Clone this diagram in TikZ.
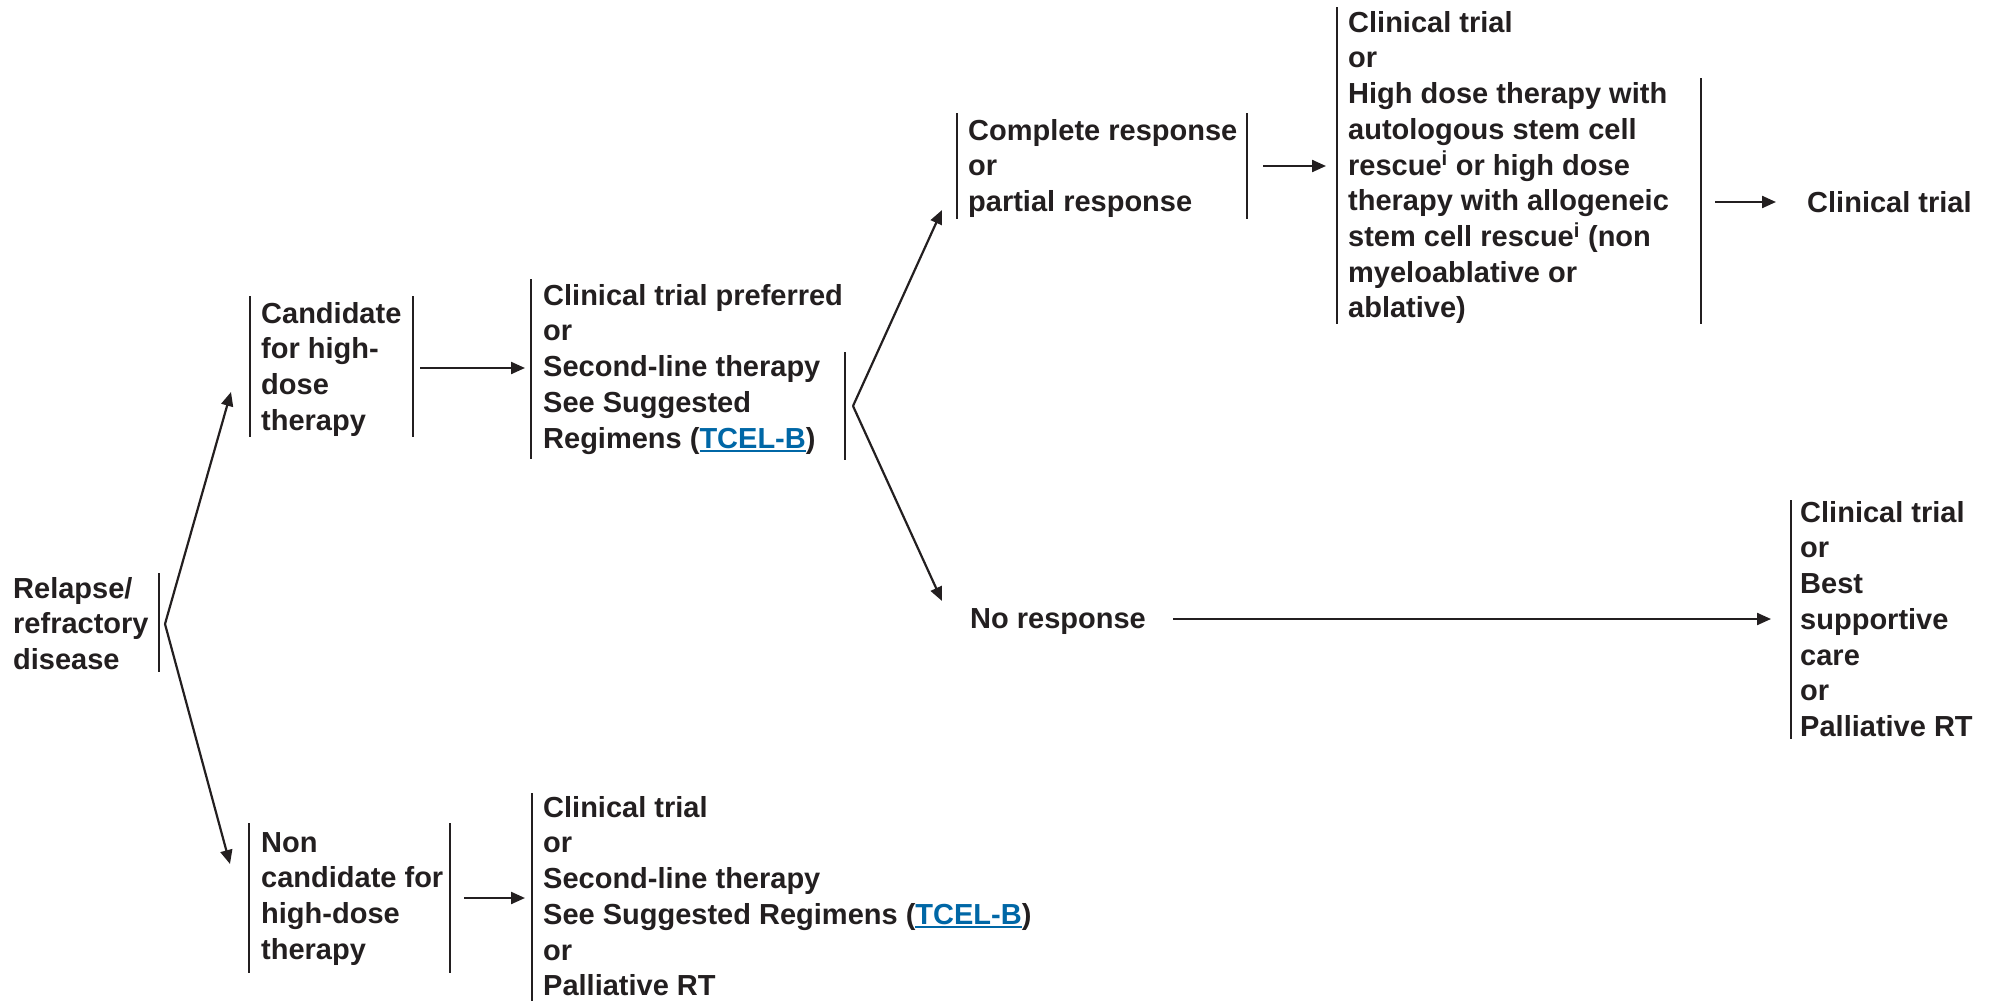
\documentclass[tikz,border=0pt]{standalone}
\usepackage{fontspec}
\setmainfont{Liberation Sans}
\usetikzlibrary{arrows.meta}
\definecolor{ink}{HTML}{231F20}
\definecolor{linkblue}{HTML}{0067A6}
% blue underlined cross-reference
\newcommand\tcellink[1]{\textcolor{linkblue}{\setbox0\hbox{#1}\rlap{\rule[-3.5pt]{\wd0}{1.8pt}}\box0}}
\tikzset{
  txt/.style={anchor=north west, inner sep=0pt, align=left, text=ink,
    font=\bfseries\fontsize{29}{35.7}\selectfont,
    execute at begin node=\rule{0pt}{22pt}},
  bar/.style={draw=ink, line width=2.7pt},
  arr/.style={draw=ink, line width=2.2pt, -{Triangle[length=14pt,width=12pt]}},
}
\begin{document}
\begin{tikzpicture}[x=1pt,y=-1pt]
\useasboundingbox (0,0) rectangle (1997,1001);

% text blocks
\node[txt] (relapse) at (13,577) {Relapse/\\refractory\\disease};
\node[txt] (cand) at (261,302) {Candidate\\for high-\\dose\\therapy};
\node[txt] (second) at (543,284) {Clinical trial preferred\\or\\Second-line therapy\\See Suggested\\Regimens (\tcellink{TCEL-B})};
\node[txt] (cr) at (968,119) {Complete response\\or\\partial response};
\node[txt] (hdt) at (1348,11) {Clinical trial\\or\\High dose therapy with\\autologous stem cell\\rescue\textsuperscript{i} or high dose\\therapy with allogeneic\\stem cell rescue\textsuperscript{i} (non\\myeloablative or\\ablative)};
\node[txt] (ct) at (1807,190) {Clinical trial};
\node[txt] (nr) at (970,606) {No response};
\node[txt] (bsc) at (1800,501) {Clinical trial\\or\\Best\\supportive\\care\\or\\Palliative RT};
\node[txt] (non) at (261,832) {Non\\candidate for\\high-dose\\therapy};
\node[txt] (pal) at (543,796) {Clinical trial\\or\\Second-line therapy\\See Suggested Regimens (\tcellink{TCEL-B})\\or\\Palliative RT};

% vertical bars
\draw[bar] (159,573) -- (159,672);
\draw[bar] (250,296) -- (250,437);
\draw[bar] (413,296) -- (413,437);
\draw[bar] (531,279) -- (531,459);
\draw[bar] (845,352) -- (845,460);
\draw[bar] (957,113) -- (957,219);
\draw[bar] (1247,113) -- (1247,219);
\draw[bar] (1337,7) -- (1337,324);
\draw[bar] (1701,78) -- (1701,324);
\draw[bar] (1791,500) -- (1791,739);
\draw[bar] (249,823) -- (249,973);
\draw[bar] (450,823) -- (450,973);
\draw[bar] (532,793) -- (532,1001);

% connector end points
\coordinate (j0) at (165,624);
\coordinate (candIn) at (231,392);
\coordinate (nonIn) at (230,864);
\coordinate (candOut) at (420,368);
\coordinate (secondIn) at (525,368);
\coordinate (j1) at (853,406);
\coordinate (crIn) at (942,210);
\coordinate (nrIn) at (942,601);
\coordinate (crOut) at (1263,166);
\coordinate (hdtIn) at (1326,166);
\coordinate (hdtOut) at (1715,202);
\coordinate (ctIn) at (1776,202);
\coordinate (nrOut) at (1173,619);
\coordinate (bscIn) at (1771,619);
\coordinate (nonOut) at (464,898);
\coordinate (palIn) at (525,898);

% connectors
\draw[arr] (j0) -- (candIn);
\draw[arr] (j0) -- (nonIn);
\draw[arr] (candOut) -- (secondIn);
\draw[arr] (j1) -- (crIn);
\draw[arr] (j1) -- (nrIn);
\draw[arr] (crOut) -- (hdtIn);
\draw[arr] (hdtOut) -- (ctIn);
\draw[arr] (nrOut) -- (bscIn);
\draw[arr] (nonOut) -- (palIn);
\end{tikzpicture}
\end{document}
